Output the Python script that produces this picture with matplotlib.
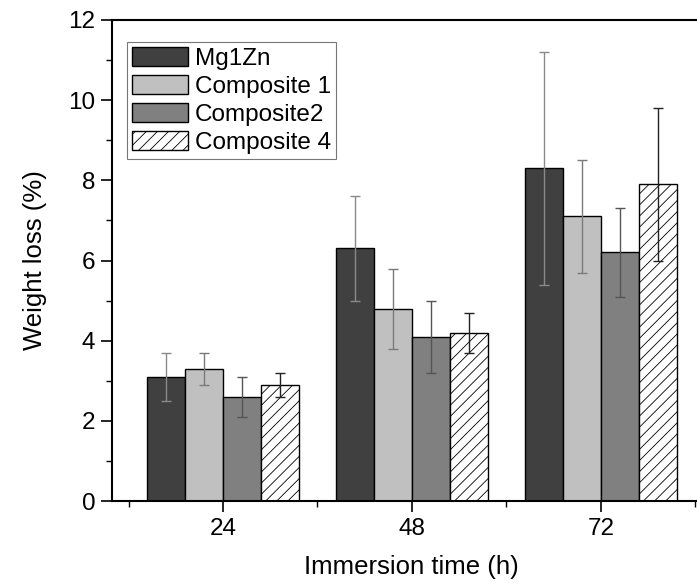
import numpy as np
import matplotlib
matplotlib.use("Agg")
import matplotlib.pyplot as plt
from matplotlib.ticker import MultipleLocator, FixedLocator

# ── data ──
times = [24, 48, 72]
series = ["Mg1Zn", "Composite 1", "Composite2", "Composite 4"]
mg1zn = [3.1, 6.3, 8.3]
comp1 = [3.3, 4.8, 7.1]
comp2 = [2.6, 4.1, 6.2]
comp4 = [2.9, 4.2, 7.9]
mg1zn_err = [0.6, 1.3, 2.9]
comp1_err = [0.4, 1.0, 1.4]
comp2_err = [0.5, 0.9, 1.1]
comp4_err = [0.3, 0.5, 1.9]

values = [mg1zn, comp1, comp2, comp4]
errors = [mg1zn_err, comp1_err, comp2_err, comp4_err]
fills = ["#404040", "#c0c0c0", "#808080", "white"]
hatches = [None, None, None, "///"]
ecolors = ["#8a8a8a", "#7a7a7a", "#555555", "#222222"]

plt.rcParams["font.family"] = ["Liberation Sans", "DejaVu Sans"]
plt.rcParams["hatch.linewidth"] = 0.6

fig = plt.figure(figsize=(6.97, 5.84), dpi=100)
ax = fig.add_axes([112 / 697, 83 / 584, 599 / 697, 481 / 584])

w = 4.83
x = np.array(times, dtype=float)
for i, name in enumerate(series):
    pos = x + (i - 1.5) * w
    ax.bar(pos, values[i], width=w, color=fills[i], edgecolor="black",
           linewidth=1.0, hatch=hatches[i], label=name, zorder=2)
    ax.errorbar(pos, values[i], yerr=errors[i], fmt="none", ecolor=ecolors[i],
                elinewidth=1.0, capsize=3.5, capthick=1.0, zorder=3)

ax.set_xlim(9.9, 86)
ax.set_ylim(0, 12)
ax.xaxis.set_major_locator(FixedLocator(times))
ax.xaxis.set_minor_locator(FixedLocator([12, 36, 60, 84]))
ax.yaxis.set_major_locator(MultipleLocator(2))
ax.yaxis.set_minor_locator(MultipleLocator(1))
ax.tick_params(which="major", direction="out", length=8, width=1.2,
               labelsize=17.5, pad=4)
ax.tick_params(which="minor", direction="out", length=4, width=1.0)
ax.tick_params(top=False, right=False, which="both")
for s in ax.spines.values():
    s.set_linewidth(1.5)

ax.set_xlabel("Immersion time (h)", fontsize=18.5, labelpad=11)
ax.set_ylabel("Weight loss (%)", fontsize=18.5, labelpad=15)

leg = ax.legend(loc="upper left", bbox_to_anchor=(0.025, 0.954), fontsize=17.5,
                frameon=True, fancybox=False, edgecolor="#555555",
                handlelength=2.3, handleheight=0.8, handletextpad=0.3,
                labelspacing=0.22, borderpad=0.2, borderaxespad=0)
leg.get_frame().set_linewidth(0.8)

fig.savefig("out.png", dpi=100)
